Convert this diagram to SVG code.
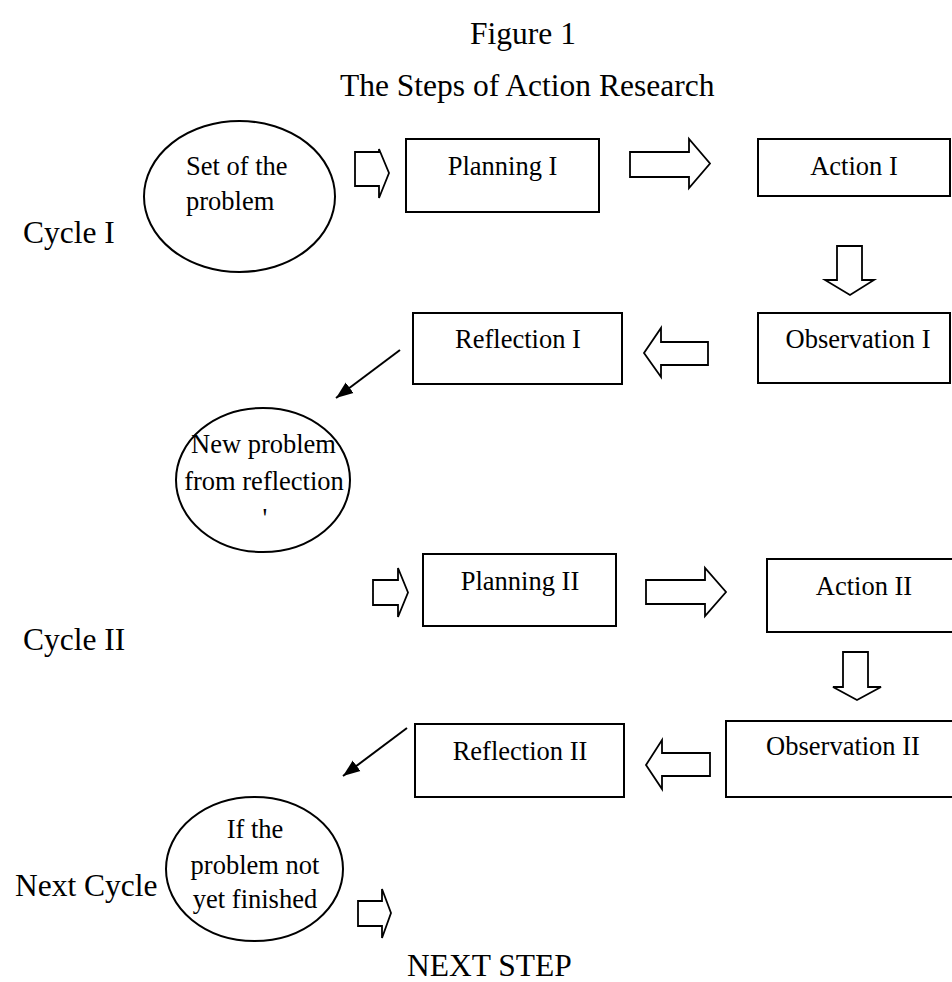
<svg xmlns="http://www.w3.org/2000/svg" width="952" height="982" viewBox="0 0 952 982">
<style>
  .bg{fill:#fff}
  .box{fill:#fff;stroke:#000;stroke-width:2}
  .ell{fill:#fff;stroke:#000;stroke-width:2}
  .blk{fill:#fff;stroke:#000;stroke-width:1.8;stroke-linejoin:miter}
  .t{font-family:"Liberation Serif","Times New Roman",serif;font-size:26.5px;fill:#000}
  .m{text-anchor:middle}
  .lbl{font-family:"Liberation Serif","Times New Roman",serif;font-size:31.5px;fill:#000}
  .diag{stroke:#000;stroke-width:2;fill:none}
</style>
<defs>
  <marker id="ah" markerUnits="userSpaceOnUse" markerWidth="18" markerHeight="14" refX="17" refY="7" orient="auto">
    <path d="M0,0.5 L17,7 L0,13.5 z" fill="#000"/>
  </marker>
</defs>
<rect class="bg" x="0" y="0" width="952" height="982"/>

<g id="titles">
  <text class="lbl m" x="523" y="44">Figure 1</text>
  <text class="lbl" x="340" y="96">The Steps of Action Research</text>
</g>

<g id="labels">
  <text class="lbl" x="23" y="243">Cycle I</text>
  <text class="lbl" x="23" y="650">Cycle II</text>
  <text class="lbl" x="15" y="896">Next Cycle</text>
  <text class="lbl" x="407" y="976">NEXT STEP</text>
</g>

<g id="connectors">
  <polygon class="blk" points="355,152 379,152 379,149 389,173 379,198 379,186 355,186"/>
  <polygon class="blk" points="630,152 689,152 689,139 710,163.5 689,188 689,177 630,177"/>
  <polygon class="blk" points="837,246 862,246 862,280 874,280 850,295 825,280 837,280"/>
  <polygon class="blk" points="708,342 661,342 661,328 644,353 661,377 661,365 708,365"/>
  <line class="diag" x1="400" y1="350" x2="336" y2="398" marker-end="url(#ah)"/>
  <polygon class="blk" points="373,580 398,580 398,568 408,592.5 398,617 398,605 373,605"/>
  <polygon class="blk" points="646,580 705,580 705,568 726,592 705,616 705,604 646,604"/>
  <polygon class="blk" points="843,652 868,652 868,687 881,687 857,700 833,687 843,687"/>
  <polygon class="blk" points="710,753 662,753 662,740 646,765 662,789 662,776 710,776"/>
  <line class="diag" x1="407" y1="728" x2="343" y2="776" marker-end="url(#ah)"/>
  <polygon class="blk" points="358,901 382,901 382,889 391,913 382,938 382,926 358,926"/>
</g>

<g id="set-problem">
  <ellipse class="ell" cx="239.5" cy="196.5" rx="95.5" ry="75.5"/>
  <text class="t" x="186" y="175">Set of the</text>
  <text class="t" x="186" y="210">problem</text>
</g>

<g id="planning-1">
  <rect class="box" x="406" y="139" width="193" height="73"/>
  <text class="t m" x="502.5" y="175">Planning I</text>
</g>

<g id="action-1">
  <rect class="box" x="758" y="139" width="192" height="57"/>
  <text class="t m" x="854" y="175">Action I</text>
</g>

<g id="observation-1">
  <rect class="box" x="758" y="313" width="192" height="70"/>
  <text class="t m" x="858" y="348">Observation I</text>
</g>

<g id="reflection-1">
  <rect class="box" x="413" y="313" width="209" height="71"/>
  <text class="t m" x="518" y="348">Reflection I</text>
</g>

<g id="new-problem">
  <ellipse class="ell" cx="263" cy="480" rx="87" ry="72"/>
  <text class="t m" x="263.5" y="453">New problem</text>
  <text class="t m" x="264" y="490">from reflection</text>
  <text class="t m" x="265" y="527">'</text>
</g>

<g id="planning-2">
  <rect class="box" x="423" y="554" width="193" height="72"/>
  <text class="t m" x="520" y="590">Planning II</text>
</g>

<g id="action-2">
  <rect class="box" x="767" y="559" width="195" height="73"/>
  <text class="t m" x="864" y="595">Action II</text>
</g>

<g id="observation-2">
  <rect class="box" x="726" y="721" width="234" height="76"/>
  <text class="t m" x="843" y="755">Observation II</text>
</g>

<g id="reflection-2">
  <rect class="box" x="415" y="724" width="209" height="73"/>
  <text class="t m" x="520" y="760">Reflection II</text>
</g>

<g id="not-finished">
  <ellipse class="ell" cx="254.5" cy="869" rx="88.5" ry="72"/>
  <text class="t m" x="255" y="838">If the</text>
  <text class="t m" x="255" y="874">problem not</text>
  <text class="t m" x="255" y="908">yet finished</text>
</g>
</svg>
